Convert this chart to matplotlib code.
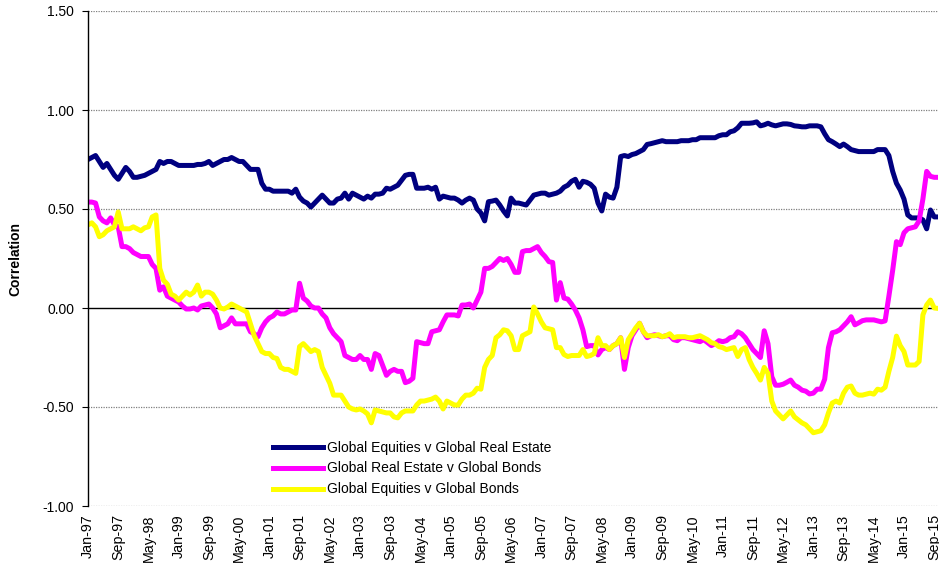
import numpy as np
import pandas as pd
import matplotlib
matplotlib.use("Agg")
import matplotlib.pyplot as plt

plt.rcParams['font.family'] = ['Liberation Sans', 'DejaVu Sans']

# monthly observations, Jan-97 .. Oct-15
months = pd.date_range('1997-01-01', '2015-10-01', freq='MS').strftime('%b-%y').tolist()

# Global Equities v Global Real Estate
eq_re = [
    0.75, 0.76, 0.77, 0.74, 0.71, 0.73, 0.70, 0.67, 0.65, 0.68,
    0.71, 0.69, 0.66, 0.66, 0.665, 0.67, 0.68, 0.69, 0.70, 0.74,
    0.73, 0.74, 0.74, 0.73, 0.72, 0.72, 0.72, 0.72, 0.72, 0.725,
    0.725, 0.73, 0.74, 0.72, 0.73, 0.74, 0.75, 0.75, 0.76, 0.75,
    0.74, 0.74, 0.72, 0.70, 0.70, 0.70, 0.63, 0.60, 0.60, 0.59,
    0.59, 0.59, 0.59, 0.59, 0.58, 0.60, 0.56, 0.54, 0.53, 0.51,
    0.53, 0.55, 0.57, 0.55, 0.53, 0.53, 0.55, 0.555, 0.58, 0.55,
    0.58, 0.57, 0.56, 0.55, 0.565, 0.555, 0.575, 0.575, 0.58, 0.605,
    0.60, 0.61, 0.62, 0.645, 0.67, 0.675, 0.675, 0.605, 0.605, 0.605,
    0.61, 0.60, 0.61, 0.55, 0.565, 0.56, 0.555, 0.555, 0.545, 0.53,
    0.545, 0.555, 0.545, 0.50, 0.48, 0.44, 0.537, 0.54, 0.545, 0.52,
    0.49, 0.465, 0.555, 0.53, 0.53, 0.525, 0.52, 0.545, 0.57, 0.575,
    0.58, 0.58, 0.57, 0.575, 0.58, 0.59, 0.61, 0.62, 0.64, 0.65,
    0.61, 0.64, 0.635, 0.625, 0.605, 0.53, 0.49, 0.575, 0.56, 0.555,
    0.61, 0.765, 0.77, 0.765, 0.775, 0.78, 0.79, 0.80, 0.826, 0.83,
    0.835, 0.84, 0.845, 0.84, 0.84, 0.84, 0.84, 0.845, 0.845, 0.845,
    0.85, 0.85, 0.86, 0.86, 0.86, 0.86, 0.86, 0.87, 0.875, 0.875,
    0.89, 0.895, 0.91, 0.933, 0.933, 0.933, 0.935, 0.94, 0.92, 0.925,
    0.933, 0.925, 0.92, 0.925, 0.93, 0.93, 0.927, 0.92, 0.918, 0.915,
    0.915, 0.92, 0.92, 0.92, 0.915, 0.88, 0.85, 0.84, 0.828, 0.815,
    0.828, 0.815, 0.80, 0.795, 0.79, 0.79, 0.79, 0.79, 0.79, 0.80,
    0.80, 0.80, 0.77, 0.69, 0.63, 0.596, 0.55, 0.47, 0.455, 0.455,
    0.455, 0.445, 0.40, 0.495, 0.46, 0.46,
]

# Global Real Estate v Global Bonds
re_bond = [
    0.535, 0.535, 0.53, 0.46, 0.44, 0.43, 0.455, 0.42, 0.41, 0.31,
    0.31, 0.30, 0.28, 0.27, 0.26, 0.26, 0.26, 0.22, 0.20, 0.09,
    0.107, 0.06, 0.05, 0.04, 0.03, 0.01, -0.005, -0.005, 0.0, -0.01,
    0.01, 0.015, 0.02, 0.0, -0.03, -0.10, -0.09, -0.08, -0.05, -0.08,
    -0.08, -0.08, -0.08, -0.12, -0.13, -0.145, -0.10, -0.07, -0.05, -0.04,
    -0.02, -0.03, -0.03, -0.02, -0.01, -0.01, 0.125, 0.05, 0.035, 0.01,
    0.0, 0.0, -0.03, -0.05, -0.10, -0.13, -0.15, -0.17, -0.24, -0.25,
    -0.26, -0.26, -0.24, -0.26, -0.26, -0.31, -0.23, -0.24, -0.29, -0.34,
    -0.32, -0.31, -0.32, -0.32, -0.377, -0.37, -0.355, -0.17, -0.175, -0.18,
    -0.18, -0.12, -0.115, -0.11, -0.07, -0.035, -0.035, -0.035, -0.04, 0.015,
    0.015, 0.02, 0.0, 0.04, 0.08, 0.20, 0.20, 0.21, 0.23, 0.25,
    0.24, 0.25, 0.22, 0.18, 0.18, 0.285, 0.29, 0.29, 0.30, 0.31,
    0.28, 0.26, 0.234, 0.23, 0.04, 0.128, 0.05, 0.045, 0.02, -0.01,
    -0.05, -0.11, -0.195, -0.19, -0.19, -0.237, -0.21, -0.20, -0.21, -0.19,
    -0.18, -0.15, -0.31, -0.20, -0.14, -0.11, -0.077, -0.12, -0.15, -0.14,
    -0.135, -0.14, -0.145, -0.14, -0.14, -0.16, -0.165, -0.15, -0.15, -0.155,
    -0.16, -0.165, -0.17, -0.16, -0.175, -0.19, -0.18, -0.165, -0.17, -0.165,
    -0.15, -0.145, -0.12, -0.13, -0.15, -0.18, -0.21, -0.23, -0.25, -0.115,
    -0.18, -0.347, -0.39, -0.39, -0.385, -0.375, -0.364, -0.39, -0.40, -0.415,
    -0.42, -0.434, -0.43, -0.41, -0.41, -0.36, -0.20, -0.125, -0.12, -0.11,
    -0.09, -0.07, -0.044, -0.085, -0.075, -0.064, -0.06, -0.06, -0.06, -0.065,
    -0.07, -0.065, 0.06, 0.19, 0.335, 0.32, 0.38, 0.40, 0.405, 0.41,
    0.44, 0.55, 0.69, 0.665, 0.66, 0.66,
]

# Global Equities v Global Bonds
eq_bond = [
    0.42, 0.43, 0.41, 0.36, 0.37, 0.39, 0.40, 0.41, 0.485, 0.40,
    0.40, 0.40, 0.41, 0.40, 0.39, 0.405, 0.41, 0.46, 0.47, 0.20,
    0.14, 0.12, 0.07, 0.06, 0.04, 0.06, 0.08, 0.066, 0.08, 0.116,
    0.06, 0.08, 0.08, 0.07, 0.04, 0.0, -0.005, 0.005, 0.02, 0.01,
    0.0, -0.01, -0.02, -0.08, -0.14, -0.18, -0.22, -0.23, -0.23, -0.25,
    -0.255, -0.30, -0.31, -0.31, -0.32, -0.33, -0.195, -0.18, -0.20, -0.22,
    -0.21, -0.22, -0.30, -0.34, -0.38, -0.44, -0.44, -0.44, -0.47, -0.50,
    -0.51, -0.515, -0.51, -0.52, -0.535, -0.58, -0.515, -0.52, -0.525, -0.53,
    -0.53, -0.55, -0.555, -0.53, -0.52, -0.52, -0.52, -0.49, -0.47, -0.47,
    -0.465, -0.46, -0.45, -0.47, -0.51, -0.47, -0.48, -0.49, -0.49, -0.46,
    -0.44, -0.44, -0.43, -0.405, -0.41, -0.30, -0.26, -0.24, -0.15, -0.135,
    -0.11, -0.115, -0.14, -0.21, -0.21, -0.14, -0.13, -0.12, 0.005, -0.03,
    -0.07, -0.10, -0.105, -0.11, -0.20, -0.20, -0.235, -0.245, -0.24, -0.24,
    -0.24, -0.21, -0.245, -0.24, -0.23, -0.15, -0.19, -0.19, -0.21, -0.19,
    -0.18, -0.15, -0.25, -0.16, -0.13, -0.10, -0.077, -0.12, -0.14, -0.14,
    -0.14, -0.135, -0.145, -0.14, -0.13, -0.15, -0.145, -0.145, -0.145, -0.15,
    -0.15, -0.145, -0.14, -0.15, -0.16, -0.175, -0.18, -0.195, -0.20, -0.21,
    -0.205, -0.20, -0.245, -0.21, -0.20, -0.26, -0.30, -0.33, -0.364, -0.30,
    -0.33, -0.47, -0.52, -0.54, -0.56, -0.54, -0.52, -0.55, -0.565, -0.58,
    -0.59, -0.61, -0.63, -0.625, -0.62, -0.59, -0.53, -0.48, -0.47, -0.48,
    -0.43, -0.40, -0.394, -0.43, -0.44, -0.44, -0.435, -0.43, -0.435, -0.41,
    -0.415, -0.40, -0.32, -0.25, -0.142, -0.19, -0.22, -0.288, -0.288, -0.288,
    -0.27, -0.035, 0.015, 0.04, 0.0, -0.002,
]

labels = ['Global Equities v Global Real Estate',
          'Global Real Estate v Global Bonds',
          'Global Equities v Global Bonds']
colors = ['#000080', '#FF00FF', '#FFFF00']

fig = plt.figure(figsize=(9.39, 5.66), dpi=100)
ax = fig.add_axes([88 / 939, 60 / 566, 850 / 939, 495 / 566])

x = np.arange(len(months))
for series, lab, col in zip([eq_re, re_bond, eq_bond], labels, colors):
    ax.plot(x, series, color=col, lw=3.6, label=lab, solid_joinstyle='round')

ax.set_xlim(0, len(months) - 1)
ax.set_ylim(-1.0, 1.5)
yt = np.arange(-1.0, 1.51, 0.5)
ax.set_yticks(yt)
ax.set_yticklabels(['%.2f' % v for v in yt], fontsize=10)
for v in yt:
    if v == 0:
        ax.axhline(v, color='black', lw=1.0, zorder=0.5)
    else:
        ax.axhline(v, color='#808080', lw=0.9, ls=(0, (1, 1)), zorder=0.5)

ax.set_xticks(x[::8])
ax.set_xticklabels(months[::8], rotation=90, fontsize=10.3)
ax.tick_params(axis='x', length=0, pad=6)
ax.tick_params(axis='y', length=4, width=0.8, pad=6, direction='out')

for s in ['top', 'right', 'bottom']:
    ax.spines[s].set_visible(False)
ax.spines['left'].set_color('black')
ax.spines['left'].set_linewidth(1.0)

ax.set_ylabel('Correlation', fontsize=10, fontweight='bold')
ax.yaxis.set_label_coords(-0.077, 0.5)

ax.legend(loc='upper left', bbox_to_anchor=(260 / 939, 1 - 428 / 566),
          bbox_transform=fig.transFigure, frameon=False, fontsize=10,
          handlelength=3.6, handletextpad=0.35, labelspacing=0.5)

fig.savefig('out.png', dpi=100)
